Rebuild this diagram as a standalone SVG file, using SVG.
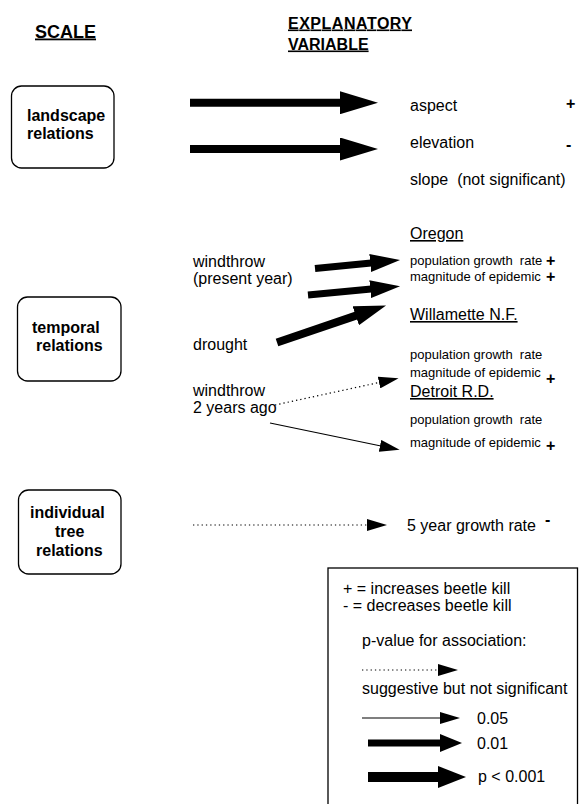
<svg xmlns="http://www.w3.org/2000/svg" width="579" height="804" viewBox="0 0 579 804">
<style>
text{font-family:"Liberation Sans",Arial,sans-serif;fill:#000;font-size:16px;white-space:pre}
.hd{font-weight:bold;text-decoration:underline}
.b{font-weight:bold}
.sm{font-size:13px}
.box{fill:#fff;stroke:#000;stroke-width:1.3}
.thick{stroke:#000;fill:none}
.thin{stroke:#000;stroke-width:1.2;fill:none}
.dot{stroke:#000;stroke-width:1.2;stroke-dasharray:1.3 3;fill:none}
</style>
<defs>
<marker id="hXL" markerUnits="userSpaceOnUse" markerWidth="38" markerHeight="23" refX="1" refY="11.5" orient="auto"><path d="M0,0 L38,11.5 L0,23 z" fill="#000"/></marker>
<marker id="hL" markerUnits="userSpaceOnUse" markerWidth="30" markerHeight="18" refX="1" refY="9" orient="auto"><path d="M0,0 L30,9 L0,18 z" fill="#000"/></marker>
<marker id="hC" markerUnits="userSpaceOnUse" markerWidth="32" markerHeight="20" refX="1" refY="10" orient="auto"><path d="M0,0 L32,10 L0,20 z" fill="#000"/></marker>
<marker id="hS" markerUnits="userSpaceOnUse" markerWidth="20" markerHeight="12" refX="1" refY="6" orient="auto"><path d="M0,0 L20,6 L0,12 z" fill="#000"/></marker>
<marker id="hM" markerUnits="userSpaceOnUse" markerWidth="22" markerHeight="18" refX="1" refY="9" orient="auto"><path d="M0,0 L22,9 L0,18 z" fill="#000"/></marker>
<marker id="hB" markerUnits="userSpaceOnUse" markerWidth="28" markerHeight="22" refX="1" refY="11" orient="auto"><path d="M0,0 L28,11 L0,22 z" fill="#000"/></marker>
</defs>

<g id="headers">
<text class="hd" x="35" y="37.5" style="font-size:18px">SCALE</text>
<text class="hd" x="288" y="28.5" textLength="124">EXPLANATORY</text>
<text class="hd" x="288" y="49.5">VARIABLE</text>
</g>

<g id="landscape">
<rect class="box" x="11.5" y="86" width="102.5" height="82" rx="10"/>
<text class="b" x="27" y="121">landscape</text>
<text class="b" x="27" y="139">relations</text>
</g>
<g id="temporal">
<rect class="box" x="17.5" y="297" width="103.5" height="84" rx="10"/>
<text class="b" x="32" y="333">temporal</text>
<text class="b" x="36" y="351">relations</text>
</g>
<g id="individual">
<rect class="box" x="18.5" y="490" width="102.5" height="84" rx="10"/>
<text class="b" x="30" y="518">individual</text>
<text class="b" x="55" y="537">tree</text>
<text class="b" x="36" y="556">relations</text>
</g>

<g id="landscape-vars">
<text x="410" y="111">aspect</text>
<text class="b" x="566" y="108.5">+</text>
<text x="410" y="148">elevation</text>
<text class="b" x="566" y="150">-</text>
<text x="410" y="185">slope  (not significant)</text>
</g>

<g id="predictors">
<text x="193" y="267">windthrow</text>
<text x="193" y="284">(present year)</text>
<text x="193" y="350">drought</text>
<text x="193" y="396">windthrow</text>
<text x="193" y="413">2 years ago</text>
</g>

<g id="oregon">
<text x="410" y="239" text-decoration="underline">Oregon</text>
<text class="sm" x="410" y="265">population growth  rate</text>
<text class="b" x="546" y="265.5">+</text>
<text class="sm" x="410" y="281">magnitude of epidemic</text>
<text class="b" x="546" y="282">+</text>
</g>
<g id="willamette">
<text x="410" y="320" text-decoration="underline">Willamette N.F.</text>
<text class="sm" x="410" y="359">population growth  rate</text>
<text class="sm" x="410" y="377">magnitude of epidemic</text>
<text class="b" x="546" y="384">+</text>
</g>
<g id="detroit">
<text x="410" y="397" text-decoration="underline">Detroit R.D.</text>
<text class="sm" x="410" y="424">population growth  rate</text>
<text class="sm" x="410" y="447">magnitude of epidemic</text>
<text class="b" x="546" y="450.5">+</text>
</g>
<g id="growth">
<text x="407" y="531">5 year growth rate</text>
<text class="b" x="545" y="525">-</text>
</g>

<g id="connectors">
<line class="thick" stroke-width="8" x1="190" y1="102.7" x2="341" y2="102.7" marker-end="url(#hXL)"/>
<line class="thick" stroke-width="8" x1="190" y1="149" x2="341" y2="149" marker-end="url(#hXL)"/>
<line class="thick" stroke-width="7" x1="315" y1="268.5" x2="371.2" y2="262.9" marker-end="url(#hL)"/>
<line class="thick" stroke-width="7" x1="308" y1="295" x2="371.2" y2="289" marker-end="url(#hL)"/>
<line class="thick" stroke-width="8" x1="277" y1="342.5" x2="356.7" y2="315.4" marker-end="url(#hC)"/>
<line class="dot" x1="275" y1="405" x2="380" y2="382.3" marker-end="url(#hS)"/>
<line class="thin" x1="270" y1="423" x2="381" y2="446" marker-end="url(#hS)"/>
<line class="dot" x1="193" y1="525" x2="368" y2="525" marker-end="url(#hS)"/>
</g>

<g id="legend">
<rect x="328" y="568" width="249.5" height="240" fill="#fff" stroke="#000" stroke-width="1.3"/>
<text x="343" y="594">+ = increases beetle kill</text>
<text x="343" y="611">- = decreases beetle kill</text>
<text x="362" y="646">p-value for association:</text>
<line class="dot" x1="362" y1="670" x2="439" y2="670" marker-end="url(#hS)"/>
<text x="362" y="694">suggestive but not significant</text>
<line class="thin" x1="362" y1="718" x2="441" y2="718" marker-end="url(#hS)"/>
<text x="477" y="724">0.05</text>
<line class="thick" stroke-width="7" x1="368" y1="743" x2="441" y2="743" marker-end="url(#hM)"/>
<text x="477" y="749">0.01</text>
<line class="thick" stroke-width="10" x1="368" y1="777" x2="439" y2="777" marker-end="url(#hB)"/>
<text x="478" y="782">p &lt; 0.001</text>
</g>
</svg>
